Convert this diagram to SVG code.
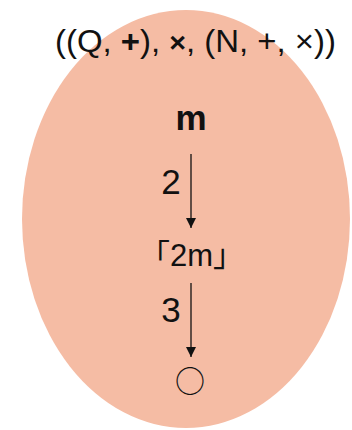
<svg xmlns="http://www.w3.org/2000/svg" width="352" height="430" viewBox="0 0 352 430">
<style>
text{font-family:"Liberation Sans",Arial,"Noto Sans CJK JP",sans-serif;fill:#111;}
.t{font-size:31px;}
.cjk{font-family:"Noto Sans CJK JP",sans-serif;}
.edge{stroke:#111;stroke-width:1.3;fill:none;}
</style>
<defs>
<marker id="ah" markerWidth="10" markerHeight="12" refX="10" refY="5" orient="auto" markerUnits="userSpaceOnUse">
<path d="M0,0 L10,5 L0,10 Z" fill="#111"/>
</marker>
</defs>
<ellipse cx="186" cy="219" rx="164" ry="209" fill="#f5bca4"/>
<text class="t" x="55" y="52" textLength="281" lengthAdjust="spacingAndGlyphs">((Q, <tspan font-weight="bold">+</tspan>), <tspan font-weight="bold" font-size="27">×</tspan>, (N, +, ×))</text>
<g id="node-m"><text x="191" y="130" text-anchor="middle" font-weight="bold" font-size="35">m</text></g>
<g id="node-2m"><text x="139" y="266" font-size="31"><tspan class="cjk">「</tspan>2m<tspan class="cjk">」</tspan></text></g>
<g id="node-circle"><text class="cjk" x="190" y="392" text-anchor="middle" font-size="30">○</text></g>
<g id="connectors">
<line class="edge" x1="191" y1="154" x2="191" y2="228" marker-end="url(#ah)"/>
<text x="171" y="194" text-anchor="middle" font-size="35">2</text>
<line class="edge" x1="191" y1="283" x2="191" y2="357" marker-end="url(#ah)"/>
<text x="171" y="322" text-anchor="middle" font-size="35">3</text>
</g>
</svg>
